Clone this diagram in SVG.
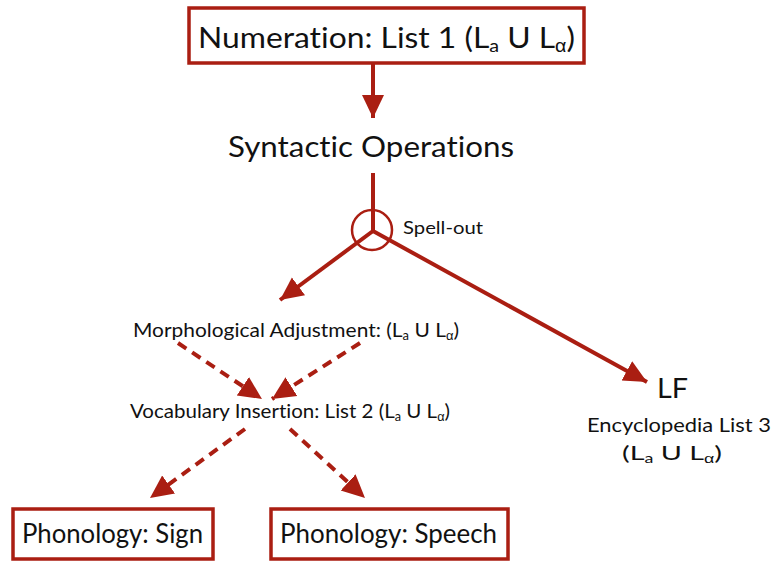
<svg xmlns="http://www.w3.org/2000/svg" width="776" height="561" viewBox="0 0 776 561">
<defs>
<style>
text{font-family:Lato,"Open Sans","Liberation Sans",sans-serif;fill:#111;font-variant-ligatures:none;font-feature-settings:"liga" 0,"clig" 0,"dlig" 0}
.box{fill:#fff;stroke:#AA1E12;stroke-width:3.5}
.ln{stroke:#AA1E12;stroke-width:4;fill:none}
.dash{stroke:#AA1E12;stroke-width:4;fill:none;stroke-dasharray:10 7}
.sub{font-size:0.62em}
.al{font-family:"Liberation Sans",sans-serif}
</style>
<marker id="ah" markerUnits="userSpaceOnUse" markerWidth="26" markerHeight="26" viewBox="0 0 26 26" refX="23" refY="13" orient="auto">
<path d="M0,2 L23,13 L0,24 Z" fill="#AA1E12"/>
</marker>
</defs>
<rect width="776" height="561" fill="#fff"/>
<g id="connectors">
<line class="ln" x1="373" y1="63" x2="373" y2="118" marker-end="url(#ah)"/>
<line class="ln" x1="373" y1="173" x2="373" y2="231"/>
<circle cx="372" cy="230" r="20" fill="none" stroke="#AA1E12" stroke-width="2.5"/>
<line class="ln" x1="373" y1="231" x2="280" y2="300" marker-end="url(#ah)"/>
<line class="ln" x1="373" y1="231" x2="647" y2="382" marker-end="url(#ah)"/>
<line class="dash" x1="178" y1="343" x2="262" y2="399" marker-end="url(#ah)"/>
<line class="dash" x1="360" y1="343" x2="272" y2="399" marker-end="url(#ah)"/>
<line class="dash" x1="245" y1="429" x2="150" y2="498" marker-end="url(#ah)"/>
<line class="dash" x1="290" y1="429" x2="365" y2="498" marker-end="url(#ah)"/>
</g>
<g id="numeration">
<rect class="box" x="189" y="8" width="395" height="55"/>
<text x="198" y="48" font-size="29" textLength="377" lengthAdjust="spacingAndGlyphs">Numeration: List 1 (L<tspan class="sub" dy="4">a</tspan><tspan dy="-4"> U L</tspan><tspan class="sub al" dy="4">α</tspan><tspan dy="-4">)</tspan></text>
</g>
<g id="syntactic">
<text x="228" y="157" font-size="29" textLength="286" lengthAdjust="spacingAndGlyphs">Syntactic Operations</text>
</g>
<g id="spellout">
<text x="403" y="234" font-size="18" textLength="80" lengthAdjust="spacingAndGlyphs">Spell-out</text>
</g>
<g id="morph">
<text x="133" y="337" font-size="20" textLength="326" lengthAdjust="spacingAndGlyphs">Morphological Adjustment: (L<tspan class="sub" dy="3">a</tspan><tspan dy="-3"> U L</tspan><tspan class="sub al" dy="3">α</tspan><tspan dy="-3">)</tspan></text>
</g>
<g id="vocab">
<text x="130" y="418" font-size="20" textLength="320" lengthAdjust="spacingAndGlyphs">Vocabulary Insertion: List 2 (L<tspan class="sub" dy="3">a</tspan><tspan dy="-3"> U L</tspan><tspan class="sub al" dy="3">α</tspan><tspan dy="-3">)</tspan></text>
</g>
<g id="lf">
<text x="657" y="398" font-size="27" textLength="31" lengthAdjust="spacingAndGlyphs">LF</text>
<text x="587" y="432" font-size="20" textLength="184" lengthAdjust="spacingAndGlyphs">Encyclopedia List 3</text>
<text x="622" y="460" font-size="20" textLength="100" lengthAdjust="spacingAndGlyphs">(L<tspan class="sub" dy="3">a</tspan><tspan dy="-3"> U L</tspan><tspan class="sub al" dy="3">α</tspan><tspan dy="-3">)</tspan></text>
</g>
<g id="sign">
<rect class="box" x="13" y="509" width="200" height="50"/>
<text x="22" y="543" font-size="26" textLength="181" lengthAdjust="spacingAndGlyphs">Phonology: Sign</text>
</g>
<g id="speech">
<rect class="box" x="271" y="509" width="237" height="50"/>
<text x="280" y="543" font-size="26" textLength="217" lengthAdjust="spacingAndGlyphs">Phonology: Speech</text>
</g>
</svg>
